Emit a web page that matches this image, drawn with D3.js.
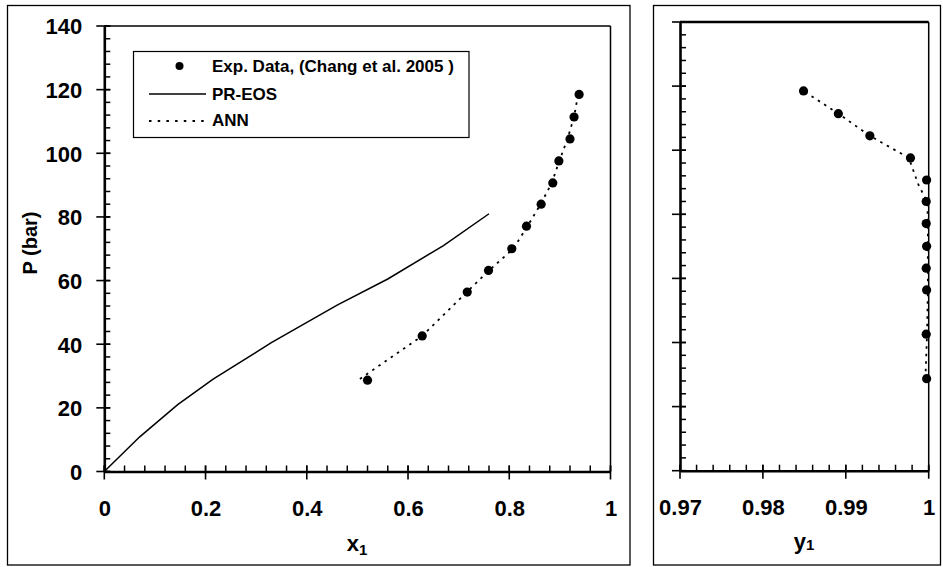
<!DOCTYPE html>
<html><head><meta charset="utf-8">
<script src="https://cdn.jsdelivr.net/npm/d3@7"></script>
<style>
html,body{margin:0;padding:0;background:#fff;}
text{font-family:"Liberation Sans",Arial,sans-serif;font-weight:bold;fill:#000;}
</style></head>
<body>
<svg id="chart" width="943" height="567"></svg>
<script>
// ---- data ----
const pressure = [28.7, 42.6, 56.4, 63.2, 70.0, 77.1, 84.0, 90.7, 97.6, 104.5, 111.4, 118.5];
const expX1 = [0.520, 0.628, 0.717, 0.759, 0.805, 0.834, 0.863, 0.886, 0.898, 0.920, 0.928, 0.938];
const annX1 = [0.505, 0.628, 0.716, 0.760, 0.808, 0.836, 0.862, 0.884, 0.899, 0.915, 0.928, 0.936];
const annP1 = [29.1, 42.6, 56.4, 63.2, 70.0, 77.1, 84.0, 90.7, 97.6, 104.5, 111.4, 118.5];
const prX1 = [0, 0.07, 0.145, 0.215, 0.33, 0.46, 0.56, 0.67, 0.76];
const prP  = [0, 10.9, 21.0, 29.0, 40.5, 52.3, 60.5, 71.0, 81.0];
const expY1 = [0.99975, 0.99970, 0.99975, 0.99970, 0.99975, 0.99970, 0.99970, 0.99975, 0.9978, 0.9929, 0.9891, 0.9849];
const annY1 = [0.9996, 0.9998, 0.9999, 0.9999, 0.9999, 0.9999, 0.99985, 0.99875, 0.9976, 0.9929, 0.9891, 0.9849];
const annPR = [28.7, 42.6, 56.4, 63.2, 70.0, 77.1, 83.7, 89.3, 97.6, 104.5, 111.4, 118.5];
const xTicks = [0, 0.2, 0.4, 0.6, 0.8, 1];
const yTicks = [0, 20, 40, 60, 80, 100, 120, 140];
const y1Ticks = [0.97, 0.98, 0.99, 1];
const legendLabels = ["Exp. Data, (Chang et al. 2005 )", "PR-EOS", "ANN"];

const svg = d3.select("#chart");
svg.append("rect").attr("width",943).attr("height",567).attr("fill","#fff");

// outer frames
svg.append("rect").attr("x",7.5).attr("y",5.5).attr("width",622.5).attr("height",559.5)
  .attr("fill","none").attr("stroke","#000").attr("stroke-width",1.3);
svg.append("rect").attr("x",653.5).attr("y",5.5).attr("width",287).attr("height",559.5)
  .attr("fill","none").attr("stroke","#000").attr("stroke-width",1.3);

// scales
const xL = d3.scaleLinear().domain([0,1]).range([104.3,610.5]);
const yL = d3.scaleLinear().domain([0,140]).range([471.5,26]);
const xR = d3.scaleLinear().domain([0.97,1]).range([680,928.7]);
const yR = d3.scaleLinear().domain([0,140]).range([470.7,22]);

const fmt = d => String(d);

function drawPanel(x, y, xt, xMinor, yMinor, showYLabels, topW) {
  const [x0,x1] = x.range(); const [y0,y1] = y.range();
  // top & right frame
  svg.append("line").attr("x1",x0).attr("x2",x1).attr("y1",y1).attr("y2",y1)
    .attr("stroke","#000").attr("stroke-width",topW);
  svg.append("line").attr("x1",x1).attr("x2",x1).attr("y1",y1).attr("y2",y0)
    .attr("stroke","#000").attr("stroke-width",1.5);
  // minor ticks (inside)
  svg.append("g").selectAll("line").data(xMinor).join("line")
    .attr("x1",d=>x(d)).attr("x2",d=>x(d)).attr("y1",y0).attr("y2",y0-6)
    .attr("stroke","#000").attr("stroke-width",1.5);
  svg.append("g").selectAll("line").data(yMinor).join("line")
    .attr("y1",d=>y(d)).attr("y2",d=>y(d)).attr("x1",x0).attr("x2",x0+6)
    .attr("stroke","#000").attr("stroke-width",1.5);
  // major ticks (crossing)
  svg.append("g").selectAll("line").data(xt).join("line")
    .attr("x1",d=>x(d)).attr("x2",d=>x(d)).attr("y1",y0-6).attr("y2",y0+8)
    .attr("stroke","#000").attr("stroke-width",1.6);
  svg.append("g").selectAll("line").data(yTicks).join("line")
    .attr("y1",d=>y(d)).attr("y2",d=>y(d)).attr("x1",x0-8).attr("x2",x0+6)
    .attr("stroke","#000").attr("stroke-width",1.6);
  // axes (domain + labels)
  const gx = svg.append("g").attr("transform",`translate(0,${y0})`)
    .call(d3.axisBottom(x).tickValues(xt).tickFormat(fmt).tickSize(0));
  gx.select(".domain").attr("stroke","#000").attr("stroke-width",2.6);
  gx.selectAll(".tick line").remove();
  gx.selectAll(".tick text").attr("y",44).attr("dy",0)
    .style("font-size","22px").style("font-family","'Liberation Sans',Arial,sans-serif").style("font-weight","bold");
  const gy = svg.append("g").attr("transform",`translate(${x0},0)`)
    .call(d3.axisLeft(y).tickValues(yTicks).tickFormat(showYLabels ? fmt : "").tickSize(0));
  gy.select(".domain").attr("stroke","#000").attr("stroke-width",2.6);
  gy.selectAll(".tick line").remove();
  gy.selectAll(".tick text").attr("x",-22).attr("dy","0.36em")
    .style("font-size","22px").style("font-family","'Liberation Sans',Arial,sans-serif").style("font-weight","bold");
}

drawPanel(xL, yL, xTicks, d3.range(0, 1.0001, 0.04), d3.range(0, 140.001, 4), true, 1.5);
drawPanel(xR, yR, y1Ticks, d3.range(0, 16).map(i => 0.97 + i*0.002), d3.range(0, 140.001, 4), false, 2.6);

// ---- left panel marks ----
const lineL = d3.line().x(d => xL(d[0])).y(d => yL(d[1]));
svg.append("path").datum(prX1.map((v,i)=>[v,prP[i]])).attr("d",lineL)
  .attr("fill","none").attr("stroke","#000").attr("stroke-width",1.5);
svg.append("path").datum(annX1.map((v,i)=>[v,annP1[i]])).attr("d",lineL)
  .attr("fill","none").attr("stroke","#000").attr("stroke-width",1.8).attr("stroke-dasharray","2.5,5");
svg.append("g").selectAll("circle").data(expX1.map((v,i)=>[v,pressure[i]])).join("circle")
  .attr("cx",d=>xL(d[0])).attr("cy",d=>yL(d[1])).attr("r",4.6).attr("fill","#000");

// ---- right panel marks ----
const lineR = d3.line().x(d => xR(d[0])).y(d => yR(d[1]));
svg.append("path").datum(annY1.map((v,i)=>[v,annPR[i]])).attr("d",lineR)
  .attr("fill","none").attr("stroke","#000").attr("stroke-width",1.8).attr("stroke-dasharray","2.5,5");
svg.append("g").selectAll("circle").data(expY1.map((v,i)=>[v,pressure[i]])).join("circle")
  .attr("cx",d=>xR(d[0])).attr("cy",d=>yR(d[1])).attr("r",4.6).attr("fill","#000");

// ---- axis titles ----
const xt = svg.append("text").attr("x",357).attr("y",551).attr("text-anchor","middle").style("font-size","22px");
xt.append("tspan").text("x");
xt.append("tspan").attr("dy",4).style("font-size","15px").text("1");
const yt = svg.append("text").attr("x",804).attr("y",549).attr("text-anchor","middle").style("font-size","22px");
yt.append("tspan").text("y");
yt.append("tspan").attr("dy",1).style("font-size","15px").text("1");
svg.append("text").attr("transform","translate(37,243) rotate(-90)").attr("text-anchor","middle")
  .style("font-size","20px").text("P (bar)");

// ---- legend ----
const lg = svg.append("g");
lg.append("rect").attr("x",133.5).attr("y",51.5).attr("width",335.5).attr("height",86)
  .attr("fill","#fff").attr("stroke","#000").attr("stroke-width",1.2);
lg.append("circle").attr("cx",179.5).attr("cy",66).attr("r",4).attr("fill","#000");
lg.append("line").attr("x1",149).attr("x2",206).attr("y1",94).attr("y2",94).attr("stroke","#000").attr("stroke-width",1.5);
lg.append("line").attr("x1",149).attr("x2",208).attr("y1",121).attr("y2",121).attr("stroke","#000")
  .attr("stroke-width",1.8).attr("stroke-dasharray","2.5,6.2");
const ly = [71.8, 99.5, 126.2];
legendLabels.forEach((t,i)=>{
  lg.append("text").attr("x",212).attr("y",ly[i]).style("font-size","17px").text(t);
});
</script>
</body></html>
